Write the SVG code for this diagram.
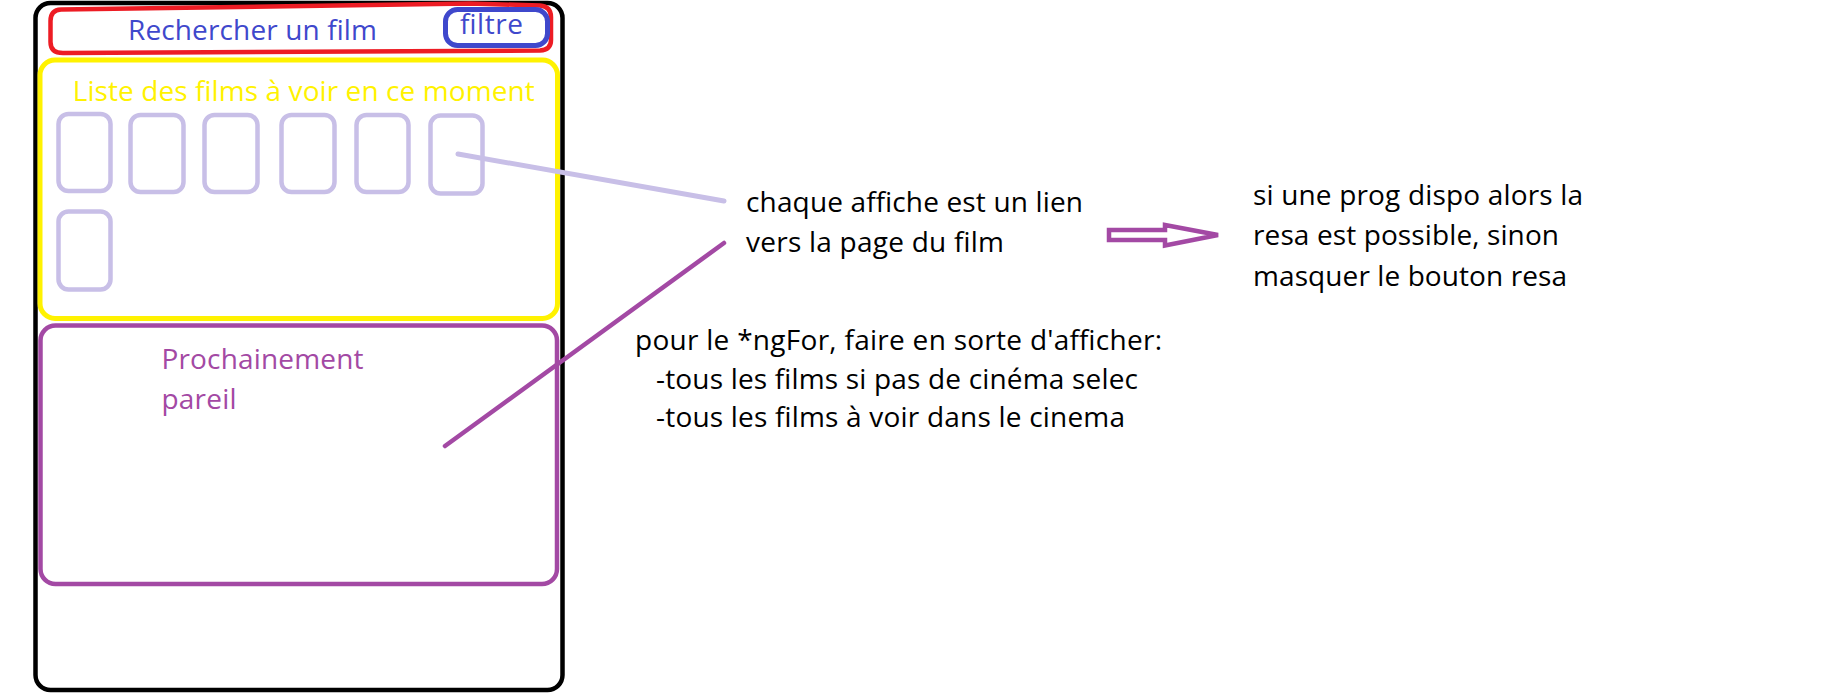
<svg xmlns="http://www.w3.org/2000/svg" width="1830" height="694" viewBox="0 0 1830 694">
  <style>
    text { font-family: "Open Sans", "Noto Sans", "Liberation Sans", sans-serif; font-size: 28px; }
    .blk { fill: #000000; }
    .blue { fill: #3F48CC; }
    .yel { fill: #FFF200; }
    .pur { fill: #A349A4; }
    .poster { fill: none; stroke: #C8BFE7; stroke-width: 4.5; }
    .frame { fill: none; stroke-linejoin: round; }
  </style>
  <rect width="1830" height="694" fill="#ffffff"/>

  <g id="phone">
    <rect class="frame" x="35.5" y="3" width="527" height="687" rx="15" stroke="#000000" stroke-width="4.5"/>
  </g>

  <g id="search-bar">
    <path class="frame" d="M 61,9.5 L 470,3.5 L 540,5.5 Q 551,6.5 551,17 L 551,40 Q 551,50 540,50.5 L 63,53 Q 50.5,53 50.5,42 L 50.5,21 Q 50.5,10 61,9.5 Z" stroke="#ED1C24" stroke-width="4.5"/>
    <text class="blue" x="128" y="39.5" textLength="249">Rechercher un film</text>
  </g>

  <g id="filter-button">
    <rect class="frame" x="445.5" y="9.5" width="102" height="36" rx="12" stroke="#3F48CC" stroke-width="5"/>
    <text class="blue" x="460" y="34.3" textLength="63">filtre</text>
  </g>

  <g id="now-showing">
    <rect class="frame" x="40" y="60" width="517.5" height="258.5" rx="15" stroke="#FFF200" stroke-width="5"/>
    <text class="yel" x="72.7" y="100.7" textLength="462">Liste des films à voir en ce moment</text>
  </g>

  <g id="poster-1"><rect class="poster" x="58.5" y="114" width="52" height="77" rx="10"/></g>
  <g id="poster-2"><rect class="poster" x="130.5" y="115" width="53" height="77" rx="10"/></g>
  <g id="poster-3"><rect class="poster" x="204.5" y="115" width="53" height="77" rx="10"/></g>
  <g id="poster-4"><rect class="poster" x="281.5" y="115" width="53" height="77" rx="10"/></g>
  <g id="poster-5"><rect class="poster" x="356.5" y="115" width="52" height="77" rx="10"/></g>
  <g id="poster-6"><rect class="poster" x="430.5" y="115.5" width="52" height="78" rx="10"/></g>
  <g id="poster-7"><rect class="poster" x="58.5" y="211.5" width="52" height="78" rx="10"/></g>

  <g id="upcoming">
    <rect class="frame" x="40.5" y="325.5" width="516.5" height="258.5" rx="15" stroke="#A349A4" stroke-width="4.5"/>
    <text class="pur" x="161.5" y="369" textLength="202">Prochainement</text>
    <text class="pur" x="161.5" y="409" textLength="75">pareil</text>
  </g>

  <g id="note-link">
    <text class="blk" x="746" y="212" textLength="337">chaque affiche est un lien</text>
    <text class="blk" x="746" y="252" textLength="258">vers la page du film</text>
  </g>

  <g id="note-resa">
    <text class="blk" x="1253" y="205" textLength="330">si une prog dispo alors la</text>
    <text class="blk" x="1253" y="245" textLength="306">resa est possible, sinon</text>
    <text class="blk" x="1253" y="286" textLength="314">masquer le bouton resa</text>
  </g>

  <g id="note-ngfor">
    <text class="blk" x="635" y="350" textLength="527">pour le *ngFor, faire en sorte d'afficher:</text>
    <text class="blk" x="656" y="389" textLength="482">-tous les films si pas de cinéma selec</text>
    <text class="blk" x="656" y="427" textLength="469">-tous les films à voir dans le cinema</text>
  </g>

  <g id="connectors">
    <line x1="458" y1="154" x2="724" y2="201" stroke="#C8BFE7" stroke-width="5" stroke-linecap="round"/>
    <line x1="445" y1="446" x2="724" y2="243" stroke="#A349A4" stroke-width="4.5" stroke-linecap="round"/>
    <polygon points="1109,230 1165,230 1165,225 1218,235 1165,245.5 1165,240 1109,240" fill="none" stroke="#A349A4" stroke-width="4.5" stroke-linejoin="miter"/>
  </g>
</svg>
